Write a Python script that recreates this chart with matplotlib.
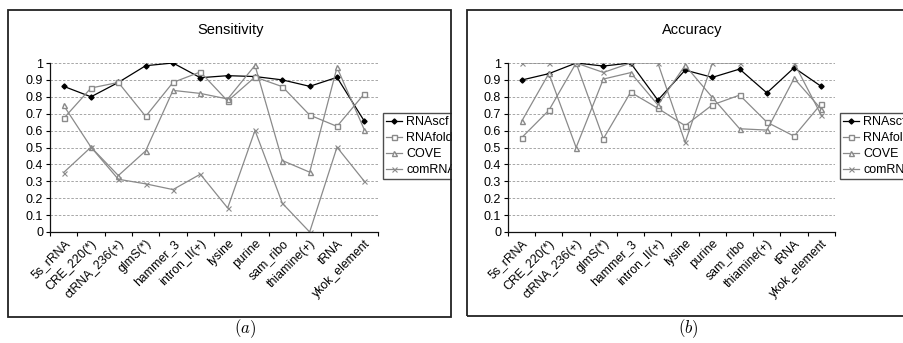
import numpy as np
import matplotlib
matplotlib.use('Agg')
import matplotlib.pyplot as plt
from matplotlib.patches import Rectangle

plt.rcParams['font.family'] = ['Liberation Sans', 'DejaVu Sans']
plt.rcParams['mathtext.fontset'] = 'cm'

categories = ['5s_rRNA', 'CRE_220(*)', 'ctRNA_236(+)', 'glmS(*)', 'hammer_3',
              'intron_II(+)', 'lysine', 'purine', 'sam_ribo', 'thiamine(+)',
              'tRNA', 'ykok_element']
methods = ['RNAscf', 'RNAfold', 'COVE', 'comRNA']

# Sensitivity
sens_rnascf = [0.862, 0.80, 0.885, 0.984, 1.0, 0.913, 0.925, 0.92, 0.90, 0.862, 0.915, 0.656]
sens_rnafold = [0.672, 0.852, 0.885, 0.684, 0.885, 0.947, 0.775, 0.917, 0.86, 0.692, 0.625, 0.818]
sens_cove = [0.749, 0.502, 0.334, 0.48, 0.838, 0.82, 0.787, 0.986, 0.423, 0.354, 0.974, 0.605]
sens_comrna = [0.352, 0.502, 0.312, 0.285, 0.251, 0.342, 0.142, 0.601, 0.17, 0.0, 0.502, 0.30]

# Accuracy (comRNA has no value for thiamine)
acc_rnascf = [0.899, 0.937, 1.0, 0.982, 1.0, 0.78, 0.958, 0.915, 0.964, 0.823, 0.972, 0.861]
acc_rnafold = [0.558, 0.72, 1.0, 0.552, 0.827, 0.732, 0.629, 0.752, 0.81, 0.65, 0.567, 0.76]
acc_cove = [0.655, 0.938, 0.5, 0.905, 0.943, 0.752, 0.986, 0.796, 0.611, 0.603, 0.909, 0.726]
acc_comrna = [1.0, 1.0, 1.0, 0.944, 1.0, 1.0, 0.53, 1.0, 1.0, np.nan, 1.0, 0.69]

W, H = 904, 343
fig = plt.figure(figsize=(W / 100, H / 100), dpi=100)

gray = '#8a8a8a'
styles = [dict(color='black', marker='D', markersize=2.6, mfc='black', mec='black'),
          dict(color=gray, marker='s', markersize=3.6, mfc='white', mec=gray),
          dict(color=gray, marker='^', markersize=3.6, mfc='white', mec=gray),
          dict(color=gray, marker='x', markersize=3.6, mec=gray, mew=0.8)]


def panel(rect, series, title, caption, title_x, caption_x, frame, legend_xy):
    # outer chart frame
    fig.patches.append(Rectangle((frame[0] / W, 1 - frame[3] / H),
                                 (frame[2] - frame[0]) / W, (frame[3] - frame[1]) / H,
                                 transform=fig.transFigure, fill=False,
                                 edgecolor='#222222', linewidth=1.3, zorder=0))
    ax = fig.add_axes(rect)
    x = np.arange(len(categories))
    for vals, name, st in zip(series, methods, styles):
        ax.plot(x, vals, linewidth=0.9, label=name, **st)
    ax.set_xlim(-0.5, len(categories) - 0.5)
    ax.set_ylim(0, 1)
    ax.set_yticks(np.arange(0, 1.01, 0.1))
    ax.set_yticklabels(['0', '0.1', '0.2', '0.3', '0.4', '0.5', '0.6', '0.7',
                        '0.8', '0.9', '1'])
    for yy in np.arange(0.1, 1.01, 0.1):
        ax.axhline(yy, color='#999999', linestyle=(0, (3, 2)), linewidth=0.6, zorder=0)
    ax.set_xticks(np.arange(-0.5, len(categories)), minor=False)
    ax.set_xticklabels([])
    ax.set_xticks(x, minor=True)
    ax.set_xticklabels(categories, minor=True, rotation=45, ha='right',
                       rotation_mode='anchor', fontsize=8.8)
    ax.tick_params(axis='x', which='minor', length=0, pad=4)
    ax.tick_params(axis='x', which='major', length=3, width=0.8, direction='out')
    ax.tick_params(axis='y', length=3, width=0.8, direction='out', labelsize=9, pad=2)
    for s in ['top', 'right']:
        ax.spines[s].set_visible(False)
    for s in ['left', 'bottom']:
        ax.spines[s].set_linewidth(0.9)
        ax.spines[s].set_color('#111111')
    ax.set_facecolor('none')
    leg = ax.legend(loc='upper left', bbox_to_anchor=(legend_xy[0] / W, 1 - legend_xy[1] / H),
                    bbox_transform=fig.transFigure, fontsize=9, frameon=True,
                    fancybox=False, edgecolor='#222222', handlelength=1.3,
                    handletextpad=0.3, labelspacing=0.32, borderpad=0.25,
                    borderaxespad=0)
    leg.get_frame().set_linewidth(1.0)
    fig.text(title_x / W, 1 - 30 / H, title, ha='center', va='center', fontsize=10.5)
    fig.text(caption_x / W, 1 - 329 / H, caption, ha='center', va='center', fontsize=12)
    return ax


panel([50 / W, 1 - 232 / H, 328 / W, 169 / H],
      [sens_rnascf, sens_rnafold, sens_cove, sens_comrna],
      'Sensitivity', r'$(a)$', 231, 245, (8, 10, 451, 317), (383, 113))
panel([508 / W, 1 - 232 / H, 327 / W, 169 / H],
      [acc_rnascf, acc_rnafold, acc_cove, acc_comrna],
      'Accuracy', r'$(b)$', 692, 688, (467, 10, 935, 316), (840, 113))

# gap between the two chart frames hides the overflowing legend
fig.patches.append(Rectangle((452 / W, 0), 14 / W, 1, transform=fig.transFigure,
                             facecolor='white', edgecolor='none', zorder=10))

fig.savefig('out.png', dpi=100)
